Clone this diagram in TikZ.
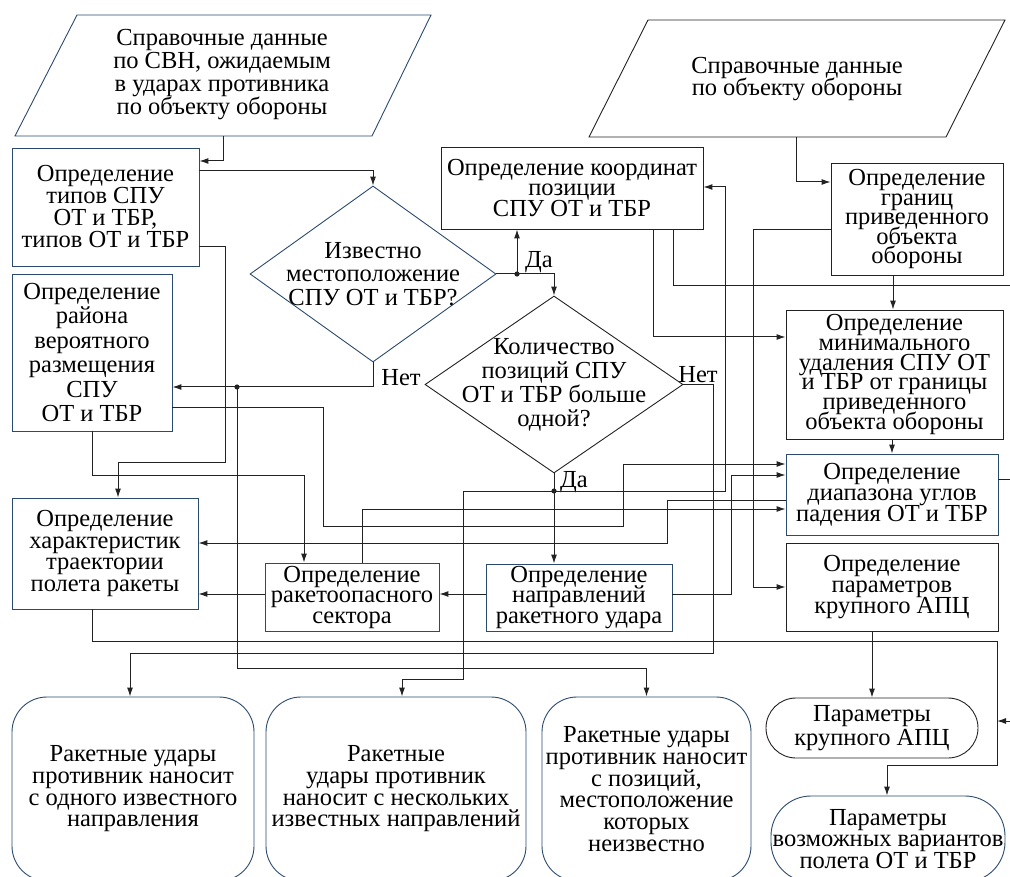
\documentclass[tikz,border=0pt]{standalone}
\usepackage{fontspec}
\setmainfont{Liberation Serif}
\usetikzlibrary{arrows.meta,shapes.geometric}
\definecolor{bdr}{HTML}{2B4A6F}
\definecolor{lnc}{HTML}{222222}
\lineskiplimit=-100pt
\begin{document}
\begin{tikzpicture}[x=1pt,y=-1pt,
  box/.style={draw=bdr, line width=0.9pt, inner sep=0pt, align=center, rectangle},
  kbox/.style={box, draw=lnc},
  fs/.style={font={\fontsize{24.5}{#1}\selectfont\lineskiplimit=-100pt}},
  txt/.style={align=center, inner sep=0pt},
  arr/.style={-{Latex[length=9pt,width=6pt]}, line width=1pt, draw=lnc},
  ln/.style={line width=1pt, draw=lnc},
  lbl/.style={font={\fontsize{24.5}{24}\selectfont}, inner sep=0pt},
  dot/.style={fill=lnc}]
\useasboundingbox (0,0) rectangle (1010,877);
\clip (0,0) rectangle (1010,877);

% input parallelograms
\draw[bdr, line width=0.9pt] (77,15) -- (431,15) -- (372,136) -- (15,136) -- cycle;
\node[txt, fs=23] (P1) at (222,75) {Справочные данные\\по СВН, ожидаемым\\в ударах противника\\по объекту обороны};
\coordinate (P1b) at (223,136);

\draw[lnc, line width=0.9pt] (648,20) -- (1005,20) -- (946,137) -- (589,137) -- cycle;
\node[txt, fs=22.5] (P2) at (797,79) {Справочные данные\\по объекту обороны};
\coordinate (P2b) at (796,137);

% boxes
\node[box, fs=22, minimum width=187pt, minimum height=118pt] (B1) at (105.5,207) {Определение\\типов СПУ\\ОТ и ТБР,\\типов ОТ и ТБР};
\node[box, fs=24.5, minimum width=160pt, minimum height=157pt] (B2) at (92,352.5) {Определение\\района\\вероятного\\размещения\\СПУ\\ОТ и ТБР};
\node[box, fs=21.5, minimum width=186pt, minimum height=111pt] (B3) at (105,553.5) {Определение\\характеристик\\траектории\\полета ракеты};
\node[box, fs=20.5, minimum width=174pt, minimum height=68pt] (B4) at (352,597) {Определение\\ракетоопасного\\сектора};
\node[box, fs=20.5, minimum width=186pt, minimum height=67pt] (B6) at (579,597.5) {Определение\\направлений\\ракетного удара};
\node[kbox, fs=20.5, minimum width=262pt, minimum height=82pt] (K) at (572,188) {Определение координат\\позиции\\СПУ ОТ и ТБР};
\node[kbox, fs=19.5, minimum width=172pt, minimum height=112pt] (G) at (917,219) {Определение\\границ\\приведенного\\объекта\\обороны};
\node[kbox, fs=19.8, minimum width=217pt, minimum height=129pt] (M) at (894.5,374.5) {Определение\\минимального\\удаления СПУ ОТ\\и ТБР от границы\\приведенного\\объекта обороны};
\node[box, fs=21, minimum width=212pt, minimum height=81pt] (B5) at (892,494.5) {Определение\\диапазона углов\\падения ОТ и ТБР};
\node[kbox, fs=21, minimum width=212pt, minimum height=88pt] (B7) at (892,587) {Определение\\параметров\\крупного АПЦ};

% terminals
\node[kbox, fs=24, rounded corners=30pt, minimum width=212pt, minimum height=60pt] (R1) at (872,728) {Параметры\\крупного АПЦ};
\node[box, fs=21.7, rounded corners=40pt, minimum width=234pt, minimum height=86pt] (R2) at (888,839) {Параметры\\возможных вариантов\\полета ОТ и ТБР};
\node[box, fs=21.7, rounded corners=35pt, minimum width=242pt, minimum height=184pt] (RB1) at (133,789) {Ракетные удары\\противник наносит\\с одного известного\\направления};
\node[box, fs=21.7, rounded corners=35pt, minimum width=260pt, minimum height=184pt] (RB2) at (396,789) {Ракетные\\удары противник\\наносит с нескольких\\известных направлений};
\node[box, fs=21.7, rounded corners=35pt, minimum width=209pt, minimum height=184pt] (RB3) at (646.5,789) {Ракетные удары\\противник наносит\\с позиций,\\местоположение\\которых\\неизвестно};

% decisions
\node[draw=bdr, line width=0.9pt, diamond, inner sep=0pt, minimum width=246pt, minimum height=176pt] (D1) at (373,274) {};
\node[txt, fs=23.5] (D1t) at (D1) {Известно\\местоположение\\СПУ ОТ и ТБР?};
\node[draw=lnc, line width=0.9pt, diamond, inner sep=0pt, minimum width=258pt, minimum height=177pt] (D2) at (554,384.5) {};
\node[txt, fs=24] (D2t) at (D2) {Количество\\позиций СПУ\\ОТ и ТБР больше\\одной?};

% branch labels
\node[lbl] (L1) at (539,262) {Да};
\node[lbl] (L2) at (401,378) {Нет};
\node[lbl] (L3) at (698,375) {Нет};
\node[lbl] (L4) at (574,482) {Да};

% junctions and free ends
\coordinate (Y1) at (517,274);
\coordinate (N1) at (237,387);
\coordinate (Y2) at (554,491);
\coordinate (E1) at (1012,286);
\coordinate (E2) at (1012,479);
\coordinate (E3) at (1012,721);
\coordinate (J) at (997,721);

% connectors
\draw[arr] (P1b) |- (B1.east |- 0,161);
\draw[arr] (B1.east |- 0,171) -| (D1.north);
\draw[arr] (B1.east |- 0,247) -| (225,462) -| (B3.north -| 118,0);
\draw[arr] (D1.south) |- (B2.east |- 0,387);
\draw[arr] (N1) |- (RB3.north |- 0,668) -- (RB3.north);
\draw[arr] (B2.south) |- (304,475) -- (B4.north -| 304,0);
\draw[arr] (B2.east |- 0,408) -| (323,526) -| (623,464) -- (B5.west |- 0,464);
\draw[arr] (D1.east) -| (D2.north);
\draw[arr] (Y1) -- (K.south -| Y1);
\draw[arr] (D2.east) -| (713,653) -| (RB1.north -| 130,0);
\draw[arr] (D2.south) -- (B6.north -| D2.south);
\draw[arr] (Y2) -| (463,679) -| (RB2.north -| 402,0);
\draw[arr] (Y2) -| (725,187) -- (K.east |- 0,187);
\draw[arr] (B6.west |- 0,594) -- (B4.east |- 0,594);
\draw[arr] (B4.west |- 0,594) -- (B3.east |- 0,594);
\draw[arr] (B6.east |- 0,594) -| (731,475) -- (B5.west |- 0,475);
\draw[arr] (B4.north -| 362,0) |- (B5.west |- 0,509);
\draw[arr] (B5.west |- 0,500) -| (667,543) -- (B3.east |- 0,543);
\draw[arr] (K.south -| 653,0) |- (M.west |- 0,337);
\draw[ln] (K.south -| 673,0) |- (E1);
\draw[arr] (P2b) |- (G.west |- 0,182);
\draw[arr] (G.south -| 893,0) -- (M.north -| 893,0);
\draw[arr] (M.south -| 892,0) -- (B5.north -| 892,0);
\draw[arr] (G.west |- 0,230) -| (753,587) -- (B7.west |- 0,587);
\draw[ln] (B5.east |- 0,479) -- (E2);
\draw[arr] (B7.south -| 872,0) -- (R1.north -| 872,0);
\draw[arr] (B3.south -| 92,0) |- (997,641) |- (887,765) -- (R2.north -| 887,0);
\draw[arr] (E3) -- (J);

\fill[dot] (Y1) circle (2.6pt);
\fill[dot] (N1) circle (2.6pt);
\fill[dot] (Y2) circle (2.6pt);
\end{tikzpicture}
\end{document}
